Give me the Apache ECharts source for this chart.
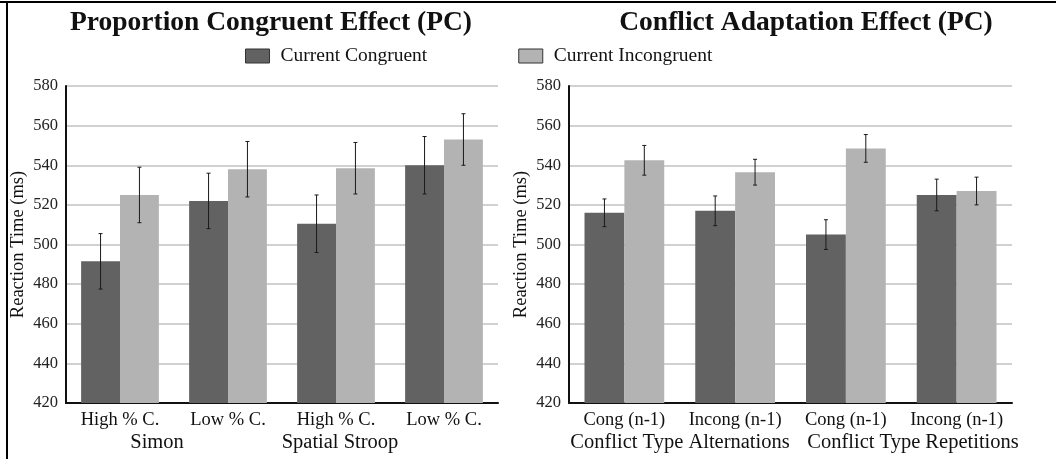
<!DOCTYPE html>
<html>
<head>
<meta charset="utf-8">
<style>
  html, body { margin: 0; padding: 0; background: #fff; }
  #chart { width: 1056px; height: 459px; }
</style>
<script src="https://cdn.jsdelivr.net/npm/echarts@6/dist/echarts.min.js"></script>
</head>
<body>
<div id="chart"></div>
<script>
// Proportion congruent effect (left panel)
const pcCategories = ['High % C.', 'Low % C.', 'High % C.', 'Low % C.'];
const pcGroups = ['Simon', 'Spatial Stroop'];
const pcCongruent = [491.5, 522, 510.5, 540];
const pcIncongruent = [525, 538, 538.5, 553];
const pcCongruentErr = [14, 14, 14.5, 14.5];
const pcIncongruentErr = [14, 14, 13, 13];

// Conflict adaptation effect (right panel)
const caCategories = ['Cong (n-1)', 'Incong (n-1)', 'Cong (n-1)', 'Incong (n-1)'];
const caGroups = ['Conflict Type Alternations', 'Conflict Type Repetitions'];
const caCongruent = [516, 517, 505, 525];
const caIncongruent = [542.5, 536.5, 548.5, 527];
const caCongruentErr = [7, 7.5, 7.5, 8];
const caIncongruentErr = [7.5, 6.5, 7, 7];

const seriesNames = ['Current Congruent', 'Current Incongruent'];
const yTicks = { min: 420, max: 580, interval: 20 };

const SERIF = '"Liberation Serif", "DejaVu Serif", serif';
const DARK = '#626262';
const LIGHT = '#b3b3b3';
const CAT_GAP = 0.28;

const chart = echarts.init(document.getElementById('chart'), null, { renderer: 'canvas' });

// error bars drawn at the centre of each bar in a two-bar group
function errorSeries(gridIdx, means, errs, slot) {
  return {
    type: 'custom',
    xAxisIndex: gridIdx,
    yAxisIndex: gridIdx,
    silent: true,
    z: 5,
    data: means.map((m, i) => [i, m - errs[i], m + errs[i]]),
    renderItem: function (params, api) {
      const band = api.size([1, 0])[0];
      const barW = band * (1 - CAT_GAP) / 2;
      const off = slot === 0 ? -barW / 2 : barW / 2;
      const lo = api.coord([api.value(0), api.value(1)]);
      const hi = api.coord([api.value(0), api.value(2)]);
      const x = lo[0] + off;
      const cap = 2;
      const style = { stroke: '#1a1a1a', lineWidth: 1 };
      return {
        type: 'group',
        children: [
          { type: 'line', shape: { x1: x, y1: lo[1], x2: x, y2: hi[1] }, style },
          { type: 'line', shape: { x1: x - cap, y1: lo[1], x2: x + cap, y2: lo[1] }, style },
          { type: 'line', shape: { x1: x - cap, y1: hi[1], x2: x + cap, y2: hi[1] }, style }
        ]
      };
    }
  };
}

function yAxisCfg(gridIdx) {
  return {
    type: 'value',
    gridIndex: gridIdx,
    min: yTicks.min,
    max: yTicks.max,
    interval: yTicks.interval,
    name: 'Reaction Time (ms)',
    nameLocation: 'middle',
    nameGap: 38,
    nameRotate: 90,
    nameTextStyle: { fontFamily: SERIF, fontSize: 18.5, color: '#111' },
    axisLine: { show: true, lineStyle: { color: '#111', width: 2 } },
    axisTick: { show: false },
    axisLabel: { fontFamily: SERIF, fontSize: 16.5, color: '#222', margin: 8 },
    splitLine: { lineStyle: { color: '#c2c2c2', width: 1.5 } }
  };
}

function xAxisCfg(gridIdx, cats) {
  return {
    type: 'category',
    gridIndex: gridIdx,
    data: cats,
    axisLine: { show: true, lineStyle: { color: '#111', width: 2 } },
    axisTick: { show: false },
    axisLabel: { fontFamily: SERIF, fontSize: 18.5, color: '#111', margin: 8, interval: 0 }
  };
}

function barSeries(name, gridIdx, values, color) {
  return {
    name: name,
    type: 'bar',
    xAxisIndex: gridIdx,
    yAxisIndex: gridIdx,
    data: values,
    barGap: '0%',
    barCategoryGap: (CAT_GAP * 100) + '%',
    itemStyle: { color: color },
    emphasis: { disabled: true }
  };
}

// group caption under a pair of categories
function groupText(text, x) {
  return {
    type: 'text',
    x: x,
    y: 443,
    style: {
      text: text, font: '20.5px ' + SERIF, fill: '#111',
      textAlign: 'center', textVerticalAlign: 'middle'
    }
  };
}

const option = {
  animation: false,
  backgroundColor: '#fff',
  title: [
    {
      text: 'Proportion Congruent Effect (PC)',
      left: 266, top: 4, textAlign: 'center',
      textStyle: { fontFamily: SERIF, fontSize: 27.5, fontWeight: 'bold', color: '#111' }
    },
    {
      text: 'Conflict Adaptation Effect (PC)',
      left: 801, top: 4, textAlign: 'center',
      textStyle: { fontFamily: SERIF, fontSize: 27.5, fontWeight: 'bold', color: '#111' }
    }
  ],
  legend: {
    data: seriesNames,
    left: 240,
    top: 41,
    itemWidth: 24,
    itemHeight: 14,
    itemGap: 91,
    icon: 'rect',
    selectedMode: false,
    itemStyle: { borderColor: '#333', borderWidth: 1 },
    textStyle: { fontFamily: SERIF, fontSize: 19.5, color: '#111', padding: [0, 0, 0, 6] }
  },
  grid: [
    { left: 66, right: 558, top: 86, bottom: 56 },
    { left: 569, right: 44, top: 86, bottom: 56 }
  ],
  xAxis: [xAxisCfg(0, pcCategories), xAxisCfg(1, caCategories)],
  yAxis: [yAxisCfg(0), yAxisCfg(1)],
  series: [
    barSeries(seriesNames[0], 0, pcCongruent, DARK),
    barSeries(seriesNames[1], 0, pcIncongruent, LIGHT),
    barSeries(seriesNames[0], 1, caCongruent, DARK),
    barSeries(seriesNames[1], 1, caIncongruent, LIGHT),
    errorSeries(0, pcCongruent, pcCongruentErr, 0),
    errorSeries(0, pcIncongruent, pcIncongruentErr, 1),
    errorSeries(1, caCongruent, caCongruentErr, 0),
    errorSeries(1, caIncongruent, caIncongruentErr, 1)
  ],
  graphic: [
    groupText(pcGroups[0], 157),
    groupText(pcGroups[1], 340),
    groupText(caGroups[0], 680),
    groupText(caGroups[1], 913),
    // outer frame: top and left rules
    { type: 'line', shape: { x1: 0, y1: 2, x2: 1056, y2: 2 }, style: { stroke: '#000', lineWidth: 2 } },
    { type: 'line', shape: { x1: 7, y1: 2, x2: 7, y2: 459 }, style: { stroke: '#000', lineWidth: 2 } }
  ]
};

chart.setOption(option);
</script>
</body>
</html>
